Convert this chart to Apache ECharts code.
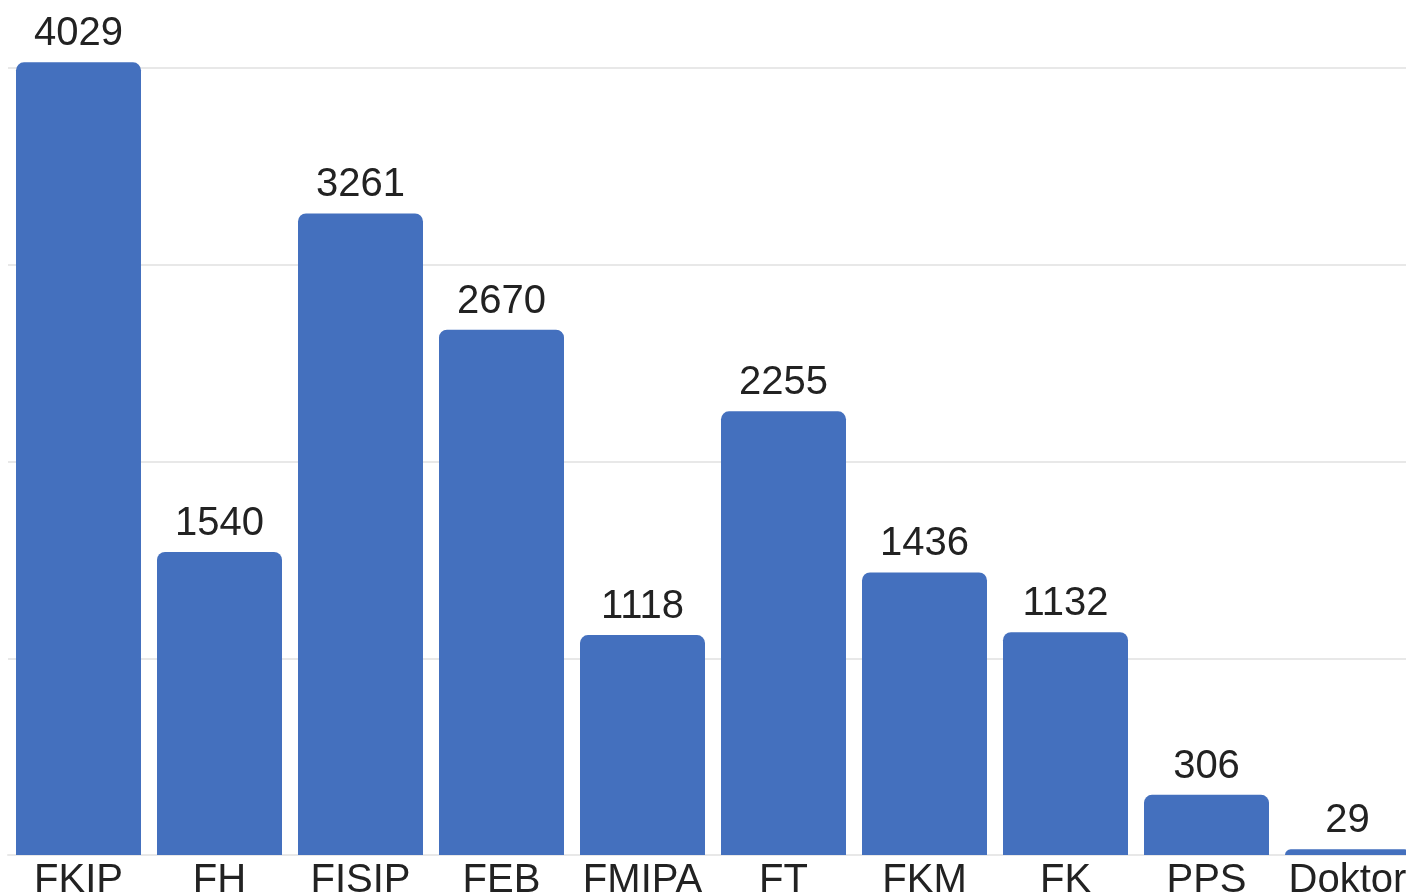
<!DOCTYPE html>
<html>
<head>
<meta charset="utf-8">
<script src="https://cdn.jsdelivr.net/npm/echarts@6/dist/echarts.min.js"></script>
<style>
html,body{margin:0;padding:0;background:#fff;}
#chart{width:1406px;height:896px;}
</style>
</head>
<body>
<div id="chart"></div>
<script>
var categories = ['FKIP','FH','FISIP','FEB','FMIPA','FT','FKM','FK','PPS','Doktor']
var values = [4029,1540,3261,2670,1118,2255,1436,1132,306,29]
var yTicks = [0,1000,2000,3000,4000]

var chart = echarts.init(document.getElementById('chart'))
var option = {
    animation:false,
    grid:{
        left:8,
        width:1410,
        top:68,
        bottom:41,
        containLabel:false,
        outerBoundsMode:'none'
    },
    xAxis:{
        type:'category',
        data:categories,
        axisTick:{show:false},
        axisLine:{show:true,lineStyle:{color:'#e8e8e8',width:2}},
        axisLabel:{
            color:'#222',
            fontSize:40,
            fontFamily:'Liberation Sans',
            margin:6,
            interval:0
        }
    },
    yAxis:{
        type:'value',
        min:yTicks[0],
        max:yTicks[yTicks.length-1],
        interval:1000,
        axisLabel:{show:false},
        axisLine:{show:false},
        axisTick:{show:false},
        splitLine:{lineStyle:{color:'#e8e8e8',width:2}}
    },
    series:[{
        type:'bar',
        data:values,
        barWidth:125,
        clip:false,
        itemStyle:{
            color:'#4470BE',
            borderRadius:[8,8,0,0]
        },
        label:{
            show:true,
            position:'top',
            distance:8,
            color:'#222',
            fontSize:40,
            fontFamily:'Liberation Sans'
        }
    }]
}
chart.setOption(option)
</script>
</body>
</html>
